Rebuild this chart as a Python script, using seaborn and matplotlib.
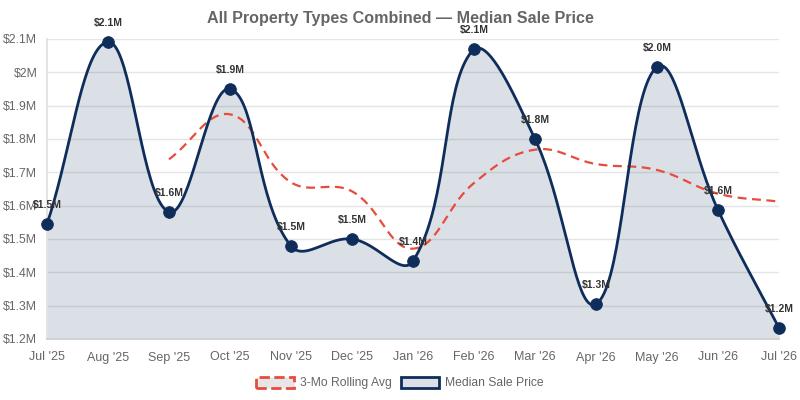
import numpy as np
import matplotlib
matplotlib.use('Agg')
import matplotlib.pyplot as plt
import seaborn as sns
from matplotlib.patches import Patch

# data ($M)
months = ["Jul '25", "Aug '25", "Sep '25", "Oct '25", "Nov '25", "Dec '25", "Jan '26",
          "Feb '26", "Mar '26", "Apr '26", "May '26", "Jun '26", "Jul '26"]
median_price = [1.545, 2.091, 1.581, 1.950, 1.479, 1.500, 1.434,
                2.070, 1.800, 1.305, 2.016, 1.587, 1.233]
rolling_avg = [None, None, 1.739, 1.874, 1.670, 1.643, 1.471,
               1.668, 1.768, 1.725, 1.707, 1.636, 1.612]
point_labels = ['$1.5M', '$2.1M', '$1.6M', '$1.9M', '$1.5M', '$1.5M', '$1.4M',
                '$2.1M', '$1.8M', '$1.3M', '$2.0M', '$1.6M', '$1.2M']
y_ticks = [1.2, 1.3, 1.4, 1.5, 1.6, 1.7, 1.8, 1.9, 2.0, 2.1]

NAVY = '#0f2d5a'
RED = '#e74c3c'
GREY = '#666666'

# pixel scale of the plot area, used for the spline like chart.js
SX = 61.0
SY = 300 / 0.9
YMIN, YMAX = 1.2, 2.1


def spline(xs, ys, tension=0.4, n=40):
    px = np.array(xs, float) * SX
    py = np.array(ys, float) * SY
    m = len(px)
    cp_prev, cp_next = [], []
    for i in range(m):
        pr = max(i - 1, 0)
        nx = min(i + 1, m - 1)
        d01 = np.hypot(px[i] - px[pr], py[i] - py[pr])
        d12 = np.hypot(px[nx] - px[i], py[nx] - py[i])
        tot = d01 + d12
        s01 = d01 / tot if tot else 0
        s12 = d12 / tot if tot else 0
        fa, fb = tension * s01, tension * s12
        dx, dy = px[nx] - px[pr], py[nx] - py[pr]
        cp_prev.append((px[i] - fa * dx, np.clip(py[i] - fa * dy, YMIN * SY, YMAX * SY)))
        cp_next.append((px[i] + fb * dx, np.clip(py[i] + fb * dy, YMIN * SY, YMAX * SY)))
    out_x, out_y = [px[0]], [py[0]]
    t = np.linspace(0, 1, n)[1:]
    for i in range(m - 1):
        p0 = np.array([px[i], py[i]])
        p1 = np.array(cp_next[i])
        p2 = np.array(cp_prev[i + 1])
        p3 = np.array([px[i + 1], py[i + 1]])
        b = ((1 - t)[:, None] ** 3 * p0 + 3 * ((1 - t) ** 2 * t)[:, None] * p1
             + 3 * ((1 - t) * t ** 2)[:, None] * p2 + (t ** 3)[:, None] * p3)
        out_x.extend(b[:, 0])
        out_y.extend(b[:, 1])
    return np.array(out_x) / SX, np.array(out_y) / SY


sns.set_theme(style='white')
plt.rcParams['font.family'] = ['Liberation Sans', 'DejaVu Sans']

fig = plt.figure(figsize=(8, 4), dpi=100)
ax = fig.add_axes([47 / 800, 1 - 339 / 400, 732 / 800, 300 / 400])

x_idx = np.arange(len(months))

# median sale price (filled, smoothed)
mx, my = spline(x_idx, median_price)
ax.fill_between(mx, YMIN, my, color=NAVY, alpha=0.15, linewidth=0, zorder=1)
sns.lineplot(x=mx, y=my, sort=False, color=NAVY, linewidth=2, ax=ax, zorder=3)
ax.lines[-1].set_clip_on(False)
sns.scatterplot(x=x_idx, y=median_price, color=NAVY, s=70, edgecolor=NAVY, ax=ax, zorder=4)
ax.collections[-1].set_clip_on(False)

# rolling average
ra_idx = [i for i, v in enumerate(rolling_avg) if v is not None]
ra_val = [v for v in rolling_avg if v is not None]
rx, ry = spline(ra_idx, ra_val)
sns.lineplot(x=rx, y=ry, sort=False, color=RED, linewidth=1.6, ax=ax, zorder=2)
ax.lines[-1].set_dashes([4, 2.5])

for i, (v, lab) in enumerate(zip(median_price, point_labels)):
    ax.annotate(lab, (i, v), xytext=(0, 13.5), textcoords='offset points',
                ha='center', va='center', fontsize=7.5, fontweight='bold',
                color='#333333', zorder=5)

ax.set_xlim(0, len(months) - 1)
ax.set_ylim(YMIN, YMAX)
ax.set_xticks(x_idx)
ax.set_xticklabels(months)
ax.set_yticks(y_ticks)
ax.set_yticklabels(['$2M' if abs(v - 2.0) < 1e-9 else f'${v:.1f}M' for v in y_ticks])
ax.tick_params(axis='both', labelsize=9, labelcolor=GREY)
ax.tick_params(axis='y', length=6, width=1, color='#e5e5e5', pad=1, labelsize=8.8)
ax.tick_params(axis='x', length=0, pad=9)
ax.grid(axis='y', color='#e5e5e5', linewidth=1)
ax.grid(axis='x', visible=False)
for s in ['top', 'right']:
    ax.spines[s].set_visible(False)
ax.spines['left'].set_color('#e0e0e0')
ax.spines['bottom'].set_color('#cfcfcf')
ax.set_xlabel('')
ax.set_ylabel('')

fig.text(0.5, 1 - 19 / 400, 'All Property Types Combined \u2014 Median Sale Price',
         ha='center', va='center', fontsize=11.6, fontweight='bold', color=GREY)

handles = [
    Patch(facecolor='#e6e6e6', edgecolor=RED, linestyle='--', linewidth=2, label='3-Mo Rolling Avg'),
    Patch(facecolor='#dbe0e7', edgecolor=NAVY, linewidth=2, label='Median Sale Price'),
]
fig.legend(handles=handles, loc='center', bbox_to_anchor=(0.5, 1 - 383 / 400), ncol=2,
           frameon=False, fontsize=8.7, labelcolor=GREY, handlelength=3.1, handleheight=1.0,
           handletextpad=0.5, columnspacing=0.8)

plt.savefig('out.png', dpi=100)
